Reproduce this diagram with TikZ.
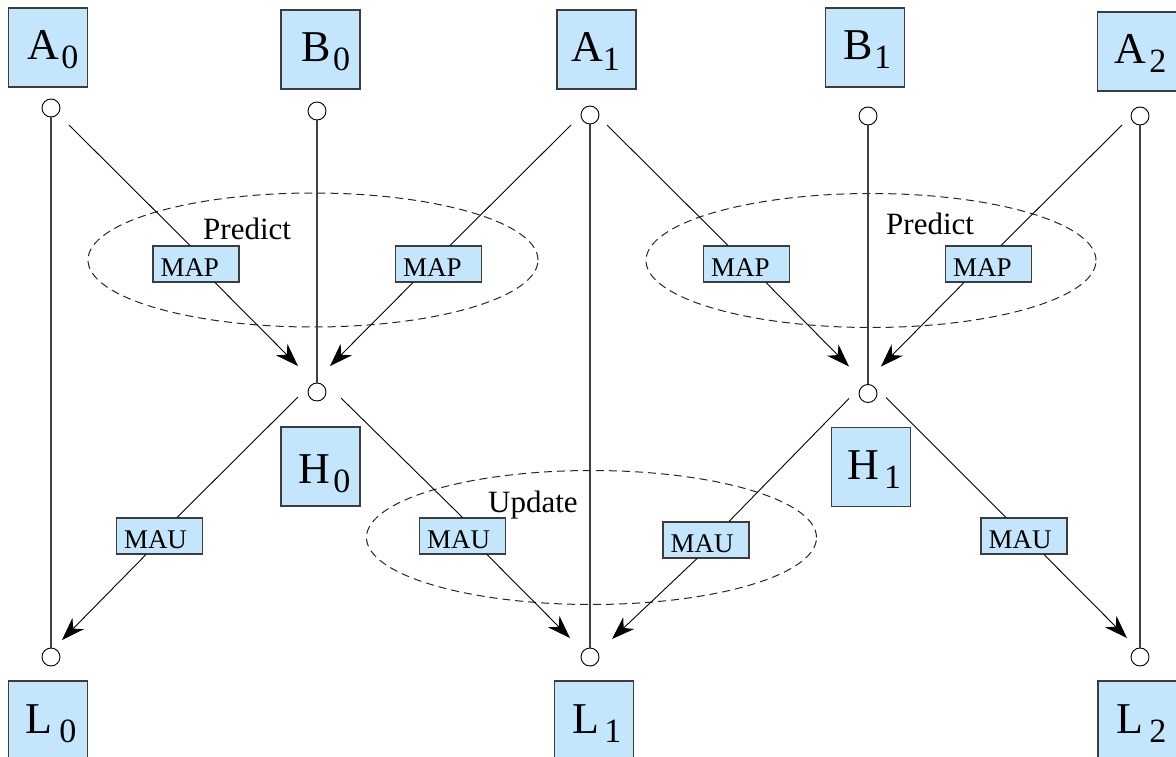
\documentclass[tikz,border=0pt]{standalone}
\usepackage{fontspec}
\setmainfont{Liberation Serif}
\usetikzlibrary{arrows.meta,calc,shapes.geometric}

\definecolor{boxblue}{RGB}{196,230,252}
\definecolor{boxedge}{RGB}{60,60,60}

% state symbol: letter, subscript, gap before subscript, left padding
\newcommand{\statesym}[4]{\hspace*{#4pt}\fontsize{44}{44}\selectfont #1\kern#3pt\raisebox{-9pt}{\fontsize{34}{34}\selectfont #2}}

\begin{document}
\begin{tikzpicture}[x=1pt,y=-1pt,
  var/.style={draw=boxedge, line width=1.1pt, fill=boxblue,
    minimum width=79pt, minimum height=79pt, inner sep=0pt,
    text height=25pt, text depth=0pt},
  op/.style={draw=boxedge, line width=1.1pt, fill=boxblue,
    minimum width=86pt, minimum height=36pt, inner xsep=7.5pt, inner ysep=0pt,
    text width=71pt, align=left, text height=24pt, text depth=0pt,
    font=\fontsize{27}{27}\selectfont},
  port/.style={circle, draw, line width=0.9pt, minimum size=18pt, inner sep=0pt, fill=white},
  group/.style={ellipse, draw=black!85, dash pattern=on 8pt off 5pt,
    line width=1pt, inner sep=0pt, minimum width=450pt, minimum height=134pt},
  flow/.style={line width=0.9pt},
  feed/.style={line width=0.9pt, -{Stealth[length=23pt,width=16pt,inset=7pt]}},
  rail/.style={line width=1.2pt, draw=black!75},
  tag/.style={font=\fontsize{31}{31}\selectfont, anchor=base west, inner sep=0pt}
]
\useasboundingbox (0,0) rectangle (1176,757);

% dashed groupings
\node[group] (predictA) at (313,260) {};
\node[group] (predictB) at (871,260.5) {};
\node[group] (update) at (591.5,537.5) {};
\node[tag] (predictAtag) at (203,240) {Predict};
\node[tag] (predictBtag) at (886,234) {Predict};
\node[tag] (updatetag) at (488,512) {Update};

% state boxes
\node[var] (A0) at (48,47.5) {\statesym{A}{0}{2}{10}};
\node[var] (B0) at (320.5,49.5) {\statesym{B}{0}{2}{11}};
\node[var] (A1) at (596.5,49.5) {\statesym{A}{1}{0}{-2}};
\node[var] (B1) at (865,47.5) {\statesym{B}{1}{1}{5}};
\node[var] (A2) at (1137,51.5) {\statesym{A}{2}{3}{7}};
\node[var, text height=33pt] (H0) at (320.5,466.5) {\statesym{H}{0}{3}{8}};
\node[var] (H1) at (871,467) {\statesym{H}{1}{4.5}{7}};
\node[var] (L0) at (48,720.5) {\statesym{L}{0}{7}{6}};
\node[var] (L1) at (594,720.5) {\statesym{L}{1}{5}{6}};
\node[var] (L2) at (1137.5,720.5) {\statesym{L}{2}{6}{8}};

% ports
\node[port] (a0c) at (51,108) {};
\node[port] (b0c) at (317,111) {};
\node[port] (a1c) at (590,115) {};
\node[port] (b1c) at (868,116) {};
\node[port] (a2c) at (1140,116) {};
\node[port] (h0c) at (317,392) {};
\node[port] (h1c) at (868,393.5) {};
\node[port] (l0c) at (51,657) {};
\node[port] (l1c) at (590,657) {};
\node[port] (l2c) at (1140,657) {};

% operators
\node[op] (map1) at (196,264) {MAP};
\node[op] (map2) at (438.5,264) {MAP};
\node[op] (map3) at (746.5,264) {MAP};
\node[op] (map4) at (988.5,264) {MAP};
\node[op] (mau1) at (159.5,536) {MAU};
\node[op] (mau2) at (462.5,536) {MAU};
\node[op] (mau3) at (706,540) {MAU};
\node[op] (mau4) at (1024,536) {MAU};

% vertical rails
\draw[rail] (a0c) -- (l0c);
\draw[rail] (b0c) -- (h0c);
\draw[rail] (a1c) -- (l1c);
\draw[rail] (b1c) -- (h1c);
\draw[rail] (a2c) -- (l2c);

% predict flows
\draw[flow] ($(a0c)+(18,17)$) -- ([xshift=-6pt]map1.north);
\draw[feed] ([xshift=19pt]map1.south) -- ($(h0c)+(-19,-26)$);
\draw[flow] ($(a1c)+(-19,10)$) -- ([xshift=11.5pt]map2.north);
\draw[feed] ([xshift=-25.5pt]map2.south) -- ($(h0c)+(13,-26)$);
\draw[flow] ($(a1c)+(17,10)$) -- ([xshift=-18.5pt]map3.north);
\draw[feed] ([xshift=19.5pt]map3.south) -- ($(h1c)+(-19,-27)$);
\draw[flow] ($(a2c)+(-18,9)$) -- ([xshift=12.5pt]map4.north);
\draw[feed] ([xshift=-24.5pt]map4.south) -- ($(h1c)+(13,-27)$);

% update flows
\draw[flow] ($(h0c)+(-19,5)$) -- ([xshift=17.5pt]mau1.north);
\draw[feed] ([xshift=-13.5pt]mau1.south) -- ($(l0c)+(11,-17)$);
\draw[flow] ($(h0c)+(24,6)$) -- (mau2.north);
\draw[feed] ([xshift=24.5pt]mau2.south) -- ($(l1c)+(-20,-19)$);
\draw[flow] ($(h1c)+(-19,5)$) -- ([xshift=23pt]mau3.north);
\draw[feed] ([xshift=-9pt]mau3.south) -- ($(l1c)+(22,-18)$);
\draw[flow] ($(h1c)+(18,4)$) -- ([xshift=-18pt]mau4.north);
\draw[feed] ([xshift=20pt]mau4.south) -- ($(l2c)+(-13,-19)$);
\end{tikzpicture}
\end{document}
